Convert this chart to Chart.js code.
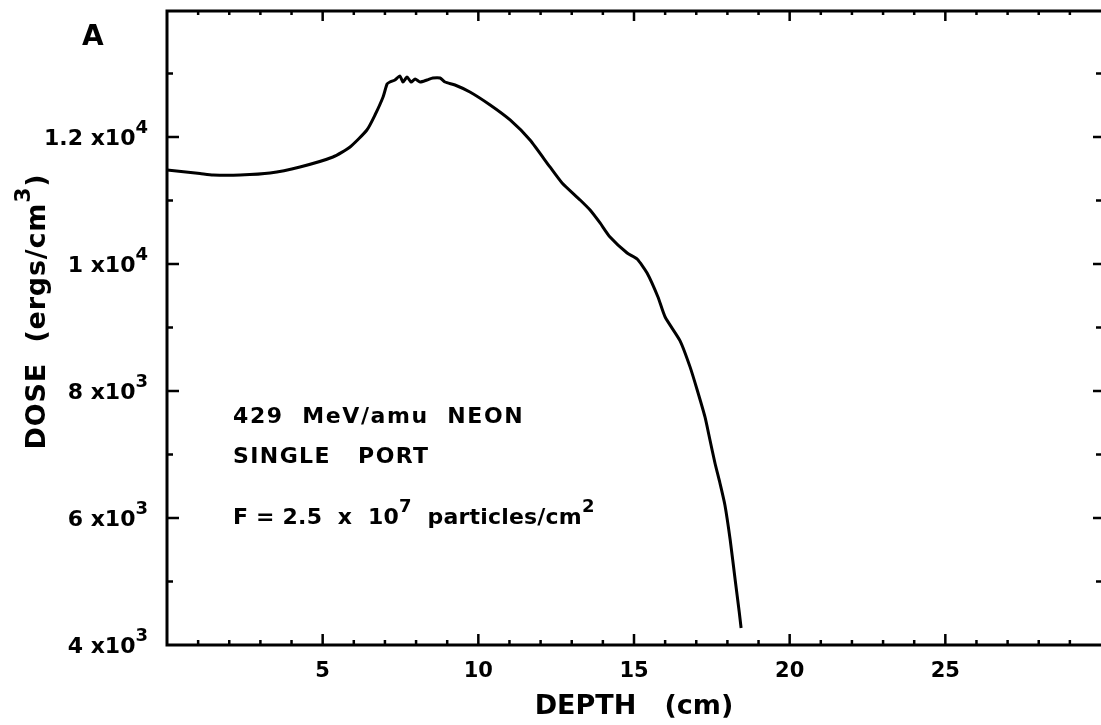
<!DOCTYPE html>
<html>
<head>
<meta charset="utf-8">
<title>Dose vs depth</title>
<script src="https://cdn.jsdelivr.net/npm/chart.js@4.4.1/dist/chart.umd.min.js"></script>
<style>
    html, body { margin: 0; padding: 0; background: #fff; }
    #wrap { width: 1101px; height: 725px; }
</style>
</head>
<body>
<div id="wrap"><canvas id="chartMain" width="1101" height="725"></canvas></div>
<script>
// ========== DATA ==========
const depthCm = [0, 1.06, 1.48, 2.35, 3.31, 4.27, 5.33, 5.88, 6.42, 6.68, 6.94, 7.07, 7.16, 7.32,
    7.48, 7.58, 7.71, 7.84, 7.97, 8.13, 8.35, 8.54, 8.77, 8.93, 9.25, 9.73, 10.38, 11.02, 11.66,
    12.30, 12.69, 13.27, 13.59, 13.91, 14.23, 14.78, 15.10, 15.42, 15.77, 16.00, 16.48, 16.80,
    17.03, 17.28, 17.44, 17.60, 17.76, 17.92, 18.09, 18.25, 18.38, 18.44];
const doseErgs = [11480, 11425, 11402, 11402, 11433, 11528, 11685, 11843, 12110, 12346, 12630, 12835,
    12866, 12898, 12961, 12866, 12945, 12866, 12913, 12866, 12898, 12929, 12929, 12866, 12819,
    12709, 12504, 12268, 11953, 11528, 11276, 11008, 10850, 10646, 10425, 10173, 10079, 9858,
    9480, 9165, 8790, 8380, 8016, 7591, 7228, 6866, 6551, 6205, 5654, 5024, 4520, 4268];

const xLabelTicks = [5, 10, 15, 20, 25];
const yLabelTicks = [4000, 6000, 8000, 10000, 12000];
const yLabelMantissa = ['4', '6', '8', '1', '1.2'];
const yLabelExponent = ['3', '3', '3', '4', '4'];

const FONT = "'DejaVu Sans', sans-serif";

// draws text pieces one after another, [text, isSuperscript]
function drawParts(ctx, parts, x, y, size, align, spacing) {
    const supSize = Math.round(size * 0.8);
    ctx.letterSpacing = (spacing || 0) + 'px';
    const widthOf = (p) => {
        ctx.font = `bold ${p[1] ? supSize : size}px ${FONT}`;
        return ctx.measureText(p[0]).width;
    };
    const total = parts.reduce((s, p) => s + widthOf(p), 0);
    let cx = align === 'right' ? x - total : align === 'center' ? x - total / 2 : x;
    ctx.textAlign = 'left';
    ctx.textBaseline = 'alphabetic';
    parts.forEach(p => {
        ctx.font = `bold ${p[1] ? supSize : size}px ${FONT}`;
        ctx.fillText(p[0], cx, p[1] ? y - size * 0.55 : y);
        cx += ctx.measureText(p[0]).width;
    });
    ctx.letterSpacing = '0px';
}

// ========== FRAME, TICKS, LABELS ==========
const framePlugin = {
    id: 'frame',
    afterDraw(chart) {
        const { ctx, chartArea: a, scales: { x, y } } = chart;
        ctx.save();
        ctx.strokeStyle = '#000';
        ctx.fillStyle = '#000';
        ctx.lineCap = 'square';

        // axis lines (no right border in the original)
        ctx.lineWidth = 3;
        ctx.beginPath();
        ctx.moveTo(a.right, a.top + 1);
        ctx.lineTo(a.left, a.top + 1);
        ctx.lineTo(a.left, a.bottom);
        ctx.lineTo(a.right, a.bottom);
        ctx.stroke();

        // inward ticks
        ctx.lineWidth = 2.5;
        ctx.lineCap = 'butt';
        ctx.beginPath();
        x.ticks.forEach(t => {
            if (t.value <= x.min || t.value >= x.max) return;
            const px = x.getPixelForValue(t.value);
            const len = t.value % 5 === 0 ? 11 : 5;
            ctx.moveTo(px, a.bottom);
            ctx.lineTo(px, a.bottom - len);
            ctx.moveTo(px, a.top);
            ctx.lineTo(px, a.top + len);
        });
        y.ticks.forEach(t => {
            if (t.value <= y.min || t.value >= y.max) return;
            const py = y.getPixelForValue(t.value);
            const len = t.value % 2000 === 0 ? 12 : 6;
            ctx.moveTo(a.left, py);
            ctx.lineTo(a.left + len, py);
            ctx.moveTo(a.right, py);
            ctx.lineTo(a.right - (t.value % 2000 === 0 ? 8 : 5), py);
        });
        ctx.stroke();

        // y tick labels with superscript exponents
        yLabelTicks.forEach((v, i) => {
            const py = y.getPixelForValue(v);
            drawParts(ctx, [[yLabelMantissa[i] + ' x10', false], [yLabelExponent[i], true]],
                a.left - 19, py + 8, 22, 'right');
        });

        // y axis title, rotated
        ctx.save();
        ctx.translate(35, (a.top + a.bottom) / 2 - 16);
        ctx.rotate(-Math.PI / 2);
        drawParts(ctx, [['DOSE  (ergs/cm', false], ['3', true], [')', false]], 0, 10, 27, 'center', 0.8);
        ctx.restore();

        // panel letter and annotation
        drawParts(ctx, [['A', false]], 82, 45, 28, 'left');
        drawParts(ctx, [['429  MeV/amu  NEON', false]], 233, 423, 22, 'left', 1.6);
        drawParts(ctx, [['SINGLE   PORT', false]], 233, 463, 22, 'left', 1.4);
        drawParts(ctx, [['F = 2.5  x  10', false], ['7', true], ['  particles/cm', false], ['2', true]],
            233, 524, 22, 'left', 0.2);
        ctx.restore();
    }
};

// ========== CHART ==========
const ctx = document.getElementById('chartMain').getContext('2d');
new Chart(ctx, {
    type: 'scatter',
    data: {
        datasets: [{
            data: depthCm.map((d, i) => ({ x: d, y: doseErgs[i] })),
            showLine: true,
            borderColor: '#000',
            borderWidth: 3,
            pointRadius: 0,
            tension: 0.2
        }]
    },
    options: {
        responsive: false,
        animation: false,
        layout: { padding: { top: 10, right: 0, left: 0, bottom: 0 } },
        plugins: { legend: { display: false }, tooltip: { enabled: false } },
        scales: {
            x: {
                type: 'linear',
                min: 0,
                max: 30,
                grid: { display: false, drawTicks: false },
                border: { display: false },
                ticks: {
                    stepSize: 1,
                    autoSkip: false,
                    maxRotation: 0,
                    padding: 14,
                    color: '#000',
                    font: { family: FONT, size: 21, weight: 'bold' },
                    callback: (v) => xLabelTicks.includes(v) ? String(v) : ''
                },
                title: {
                    display: true,
                    text: 'DEPTH   (cm)',
                    color: '#000',
                    font: { family: FONT, size: 27, weight: 'bold' },
                    padding: { top: 0, bottom: 2 }
                },
                afterFit: (scale) => {
                    scale.height = 80;
                    scale.paddingLeft = 0;
                    scale.paddingRight = 0;
                }
            },
            y: {
                type: 'linear',
                min: 4000,
                max: 14000,
                grid: { display: false, drawTicks: false },
                border: { display: false },
                ticks: { stepSize: 1000, display: false },
                afterFit: (scale) => { scale.width = 167; }
            }
        }
    },
    plugins: [framePlugin]
});
</script>
</body>
</html>
